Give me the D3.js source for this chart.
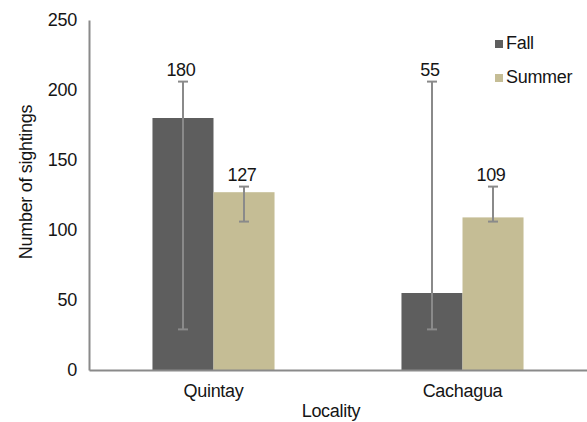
<!DOCTYPE html>
<html>
<head>
<meta charset="utf-8">
<script src="https://cdn.jsdelivr.net/npm/d3@7"></script>
<style>
  html, body { margin: 0; padding: 0; background: #fff; }
  svg { display: block; font-family: "Liberation Sans", Arial, sans-serif; }
  text { letter-spacing: -0.3px; }
</style>
</head>
<body>
<svg id="chart" width="587" height="422"></svg>
<script>
const categories = ["Quintay", "Cachagua"];
const series = ["Fall", "Summer"];
const fallValues = [180, 55];
const summerValues = [127, 109];
const fallErrLow = [29, 29];
const fallErrHigh = [206, 206];
const summerErrLow = [106, 106];
const summerErrHigh = [131, 131];
const yTicks = [0, 50, 100, 150, 200, 250];
const colors = ["#5e5e5e", "#c5bd95"];

const rows = [];
categories.forEach((c, i) => {
  rows.push({cat: c, s: "Fall", v: fallValues[i], lo: fallErrLow[i], hi: fallErrHigh[i]});
  rows.push({cat: c, s: "Summer", v: summerValues[i], lo: summerErrLow[i], hi: summerErrHigh[i]});
});

const svg = d3.select("#chart");
const mLeft = 89, mRight = 587, mTop = 20, mBottom = 370;
const fs = 18;

const y = d3.scaleLinear().domain([0, 250]).range([mBottom, mTop]);
const x = d3.scaleBand().domain(categories).range([mLeft, mRight]).padding(0);
const x1 = d3.scaleBand().domain(series).range([0, x.bandwidth()]).paddingInner(0).paddingOuter(1.04);
const color = d3.scaleOrdinal().domain(series).range(colors);

// bars
svg.append("g").selectAll("rect").data(rows).join("rect")
  .attr("x", d => x(d.cat) + x1(d.s))
  .attr("y", d => y(d.v))
  .attr("width", x1.bandwidth())
  .attr("height", d => y(0) - y(d.v))
  .attr("fill", d => color(d.s));

// error bars
const eb = svg.append("g").attr("stroke", "#8a8a8a").attr("stroke-width", 2);
rows.forEach(d => {
  const cx = x(d.cat) + x1(d.s) + x1.bandwidth() / 2;
  eb.append("line").attr("x1", cx).attr("x2", cx).attr("y1", y(d.lo)).attr("y2", y(d.hi));
  eb.append("line").attr("x1", cx - 5).attr("x2", cx + 5).attr("y1", y(d.lo)).attr("y2", y(d.lo));
  eb.append("line").attr("x1", cx - 5).attr("x2", cx + 5).attr("y1", y(d.hi)).attr("y2", y(d.hi));
});

// value labels
svg.append("g").selectAll("text").data(rows).join("text")
  .attr("x", d => x(d.cat) + x1(d.s) + x1.bandwidth() / 2 - 2)
  .attr("y", d => y(d.hi) - 6)
  .attr("text-anchor", "middle")
  .attr("font-size", fs)
  .attr("fill", "#151515")
  .text(d => d.v);

// y axis
const yAxis = svg.append("g").attr("transform", `translate(${mLeft},0)`)
  .call(d3.axisLeft(y).tickValues(yTicks).tickSize(0).tickPadding(12));
yAxis.select(".domain").attr("stroke", "#8a8a8a").attr("stroke-width", 2);
yAxis.selectAll("text").attr("font-size", fs).attr("fill", "#151515")
  .attr("font-family", "Liberation Sans, Arial, sans-serif");

// x axis
const xAxis = svg.append("g").attr("transform", `translate(0,${mBottom})`)
  .call(d3.axisBottom(x).tickSize(0).tickPadding(14));
xAxis.select(".domain").attr("stroke", "#8a8a8a").attr("stroke-width", 2);
xAxis.selectAll("text").attr("font-size", fs).attr("fill", "#151515")
  .attr("font-family", "Liberation Sans, Arial, sans-serif");

// axis titles
svg.append("text")
  .attr("transform", `translate(32,182) rotate(-90)`)
  .attr("text-anchor", "middle")
  .attr("font-size", fs)
  .attr("fill", "#151515")
  .text("Number of sightings");
svg.append("text")
  .attr("x", 331).attr("y", 417)
  .attr("text-anchor", "middle")
  .attr("font-size", fs)
  .attr("fill", "#151515")
  .text("Locality");

// legend
const lg = svg.append("g");
series.forEach((s, i) => {
  const yy = 40 + i * 34;
  lg.append("rect").attr("x", 495).attr("y", yy).attr("width", 8).attr("height", 8).attr("fill", color(s));
  lg.append("text").attr("x", 506).attr("y", yy + 9).attr("font-size", fs).attr("fill", "#151515").text(s);
});
</script>
</body>
</html>
